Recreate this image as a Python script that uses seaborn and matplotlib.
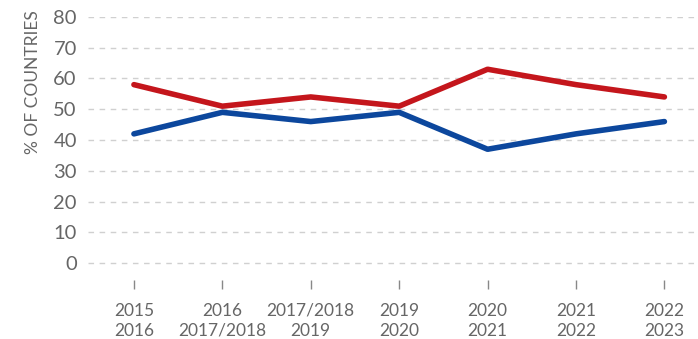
import pandas as pd
import numpy as np
import matplotlib.pyplot as plt
import seaborn as sns

periods = ['2015\n2016', '2016\n2017/2018', '2017/2018\n2019', '2019\n2020',
           '2020\n2021', '2021\n2022', '2022\n2023']
red_vals = [58, 51, 54, 51, 63, 58, 54]
blue_vals = [42, 49, 46, 49, 37, 42, 46]

df = pd.DataFrame({
    'x': list(range(len(periods))) * 2,
    'pct': red_vals + blue_vals,
    'series': ['red'] * len(periods) + ['blue'] * len(periods),
})

sns.set_theme(style='white')
plt.rcParams['font.family'] = ['Lato', 'DejaVu Sans']
grey = '#666666'

fig = plt.figure(figsize=(6.98, 3.39), dpi=100)
ax = fig.add_axes([0.126, 0.174, 0.874, 0.776])

sns.lineplot(data=df, x='x', y='pct', hue='series',
             palette={'red': '#c4161c', 'blue': '#0c479d'},
             linewidth=4, legend=False, ax=ax, clip_on=False)

ax.set_ylim(-5.5, 80)
ax.set_xlim(-0.52, 6.38)
ax.set_yticks(range(0, 81, 10))
ax.set_xticks(range(len(periods)))
ax.set_xticklabels(periods, linespacing=1.3)
ax.yaxis.grid(True, linestyle=(0, (4, 4)), color='#d0d0d0', linewidth=1)
ax.set_axisbelow(True)
for s in ax.spines.values():
    s.set_visible(False)

ax.tick_params(axis='y', length=0, pad=8, labelsize=14.5, labelcolor=grey)
ax.tick_params(axis='x', bottom=True, length=6.5, width=1, color='#888888',
               direction='out', pad=10, labelsize=12.5, labelcolor=grey)
ax.set_xlabel('')
ax.set_ylabel('')
fig.text(0.0466, 0.9705, '% OF COUNTRIES', rotation=90, ha='center', va='top',
         fontsize=12.5, color=grey)

fig.savefig('out.png', dpi=100)
